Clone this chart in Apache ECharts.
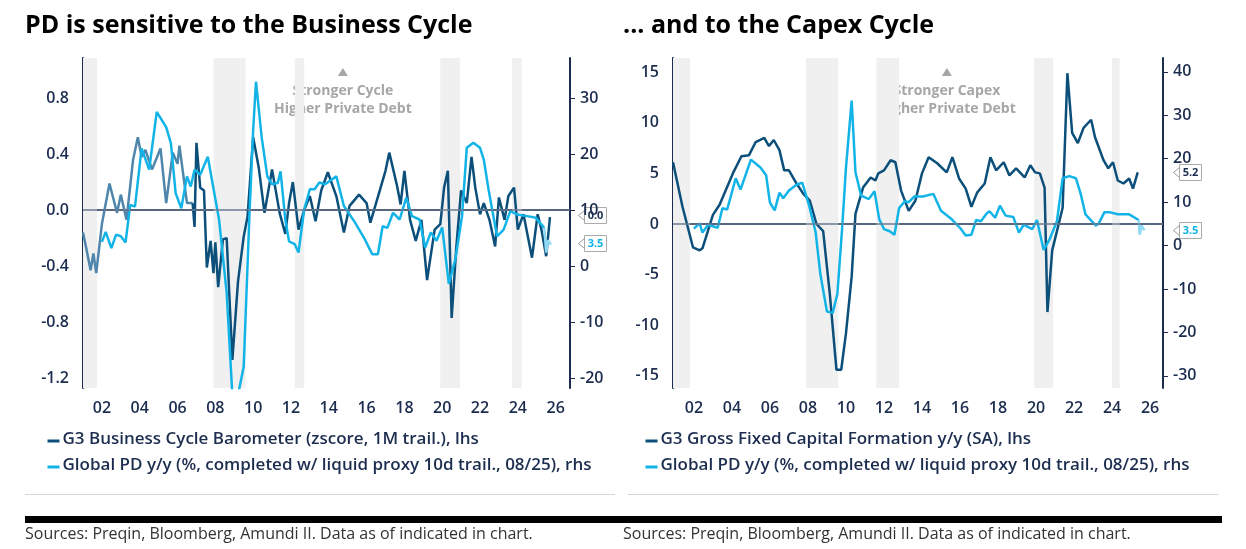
<!DOCTYPE html>
<html>
<head>
<meta charset="utf-8">
<script src="https://cdn.jsdelivr.net/npm/echarts@6/dist/echarts.min.js"></script>
<style>html,body{margin:0;padding:0;background:#fff}#main{width:1246px;height:549px}</style>
</head>
<body>
<div id="main"></div>
<script>
// left panel: G3 business cycle barometer (zscore), early part drawn lighter
var baroEarly = [[2001.0,-0.16],[2001.2,-0.29],[2001.4,-0.43],[2001.55,-0.31],[2001.7,-0.45],[2002.0,-0.1],[2002.4,0.19],[2002.8,-0.02],[2003.0,0.11],[2003.3,-0.07],[2003.65,0.36],[2003.9,0.52],[2004.1,0.38],[2004.3,0.43],[2004.65,0.29],[2005.1,0.44],[2005.4,0.05],[2005.75,0.41],[2006.0,0.33],[2006.1,0.46],[2006.5,0.05],[2006.8,0.05]];
var baroLate = [[2006.8,0.05],[2006.9,-0.12],[2007.0,0.48],[2007.2,0.16],[2007.4,0.14],[2007.55,-0.41],[2007.75,-0.22],[2007.9,-0.45],[2008.0,-0.23],[2008.15,-0.55],[2008.4,-0.21],[2008.6,-0.2],[2008.9,-1.07],[2009.2,-0.51],[2009.5,-0.19],[2009.7,-0.05],[2010.0,0.52],[2010.3,0.3],[2010.6,-0.02],[2011.0,0.29],[2011.4,-0.02],[2011.7,-0.17],[2011.9,0.05],[2012.1,0.2],[2012.4,-0.14],[2012.7,0.0],[2013.0,0.1],[2013.3,-0.08],[2013.6,0.14],[2013.95,0.27],[2014.4,0.1],[2014.8,-0.16],[2015.1,0.03],[2015.6,0.11],[2016.0,0.05],[2016.2,-0.09],[2016.7,0.14],[2017.0,0.28],[2017.2,0.41],[2017.6,0.18],[2017.8,0.04],[2018.0,0.28],[2018.3,-0.07],[2018.6,-0.22],[2018.9,-0.07],[2019.2,-0.5],[2019.6,-0.14],[2019.9,-0.1],[2020.1,0.16],[2020.3,0.28],[2020.5,-0.77],[2020.75,-0.26],[2021.0,0.14],[2021.3,0.05],[2021.55,0.38],[2021.75,0.16],[2022.0,-0.03],[2022.2,0.05],[2022.5,-0.07],[2022.8,-0.26],[2023.0,0.09],[2023.3,-0.07],[2023.5,0.1],[2023.8,0.16],[2024.0,-0.14],[2024.3,-0.03],[2024.75,-0.34],[2025.05,-0.03],[2025.25,-0.14],[2025.5,-0.33],[2025.7,-0.05]];
// global PD y/y (%) – left panel, rhs
var pdLeft = [[2002.0,4.3],[2002.2,6.1],[2002.5,3.2],[2002.75,5.6],[2003.0,5.3],[2003.25,4.2],[2003.5,10.9],[2003.75,10.6],[2004.1,21],[2004.5,17.2],[2004.9,27.5],[2005.4,24.8],[2005.65,21.9],[2005.9,13],[2006.2,10.3],[2006.5,16],[2006.7,14.2],[2006.9,17.2],[2007.2,16.3],[2007.6,19.5],[2008.2,8.2],[2008.6,-4.8],[2008.9,-23],[2009.2,-23],[2009.5,-18],[2009.8,8.8],[2010.0,24.2],[2010.15,32.9],[2010.45,23],[2010.75,16],[2011.0,14.6],[2011.3,14.8],[2011.45,16.9],[2011.7,8.3],[2011.9,4.4],[2012.2,3.9],[2012.4,2.4],[2012.7,10.1],[2013.0,13.7],[2013.25,13.7],[2013.5,14.9],[2013.8,14.6],[2014.4,16],[2014.8,10.7],[2015.4,7.7],[2015.9,4.8],[2016.3,2.1],[2016.6,2.1],[2016.85,7.1],[2017.1,6.8],[2017.4,9.5],[2017.75,8.3],[2018.1,12.2],[2018.4,8.9],[2018.8,8.3],[2019.1,3.3],[2019.4,6],[2019.7,4.5],[2020.0,6.9],[2020.35,-3.2],[2020.7,1.3],[2021.05,8.9],[2021.3,21.1],[2021.65,22],[2022.0,21.1],[2022.2,19],[2022.45,13.7],[2022.9,5.3],[2023.25,6.5],[2023.6,9.8],[2023.95,9.2],[2024.5,8.9],[2024.95,8.6],[2025.4,6.8]];
var pdLeftProxy = [[2025.4,6.8],[2025.5,2.4],[2025.6,4.6],[2025.75,3.8]];
// right panel: G3 gross fixed capital formation y/y (lhs) and PD (rhs)
var gfcf = [[2000.9,6.1],[2001.4,1.7],[2001.95,-2.3],[2002.3,-2.6],[2002.45,-2.4],[2003.0,0.9],[2003.35,1.9],[2004.05,5.0],[2004.5,6.7],[2004.9,6.8],[2005.25,8.1],[2005.7,8.5],[2005.95,7.7],[2006.2,8.3],[2006.5,7.3],[2006.75,5.3],[2007.0,5.3],[2007.4,4.0],[2007.75,3.0],[2008.1,2.3],[2008.45,0.0],[2008.8,-0.7],[2009.15,-6.9],[2009.5,-14.4],[2009.75,-14.4],[2010.0,-10.8],[2010.3,-5.2],[2010.5,1.0],[2010.9,3.6],[2011.3,4.6],[2011.55,4.3],[2011.7,5.0],[2012.0,5.3],[2012.35,6.3],[2012.6,6.1],[2012.9,3.3],[2013.3,1.3],[2013.65,2.3],[2014.0,5.0],[2014.35,6.6],[2014.8,6.0],[2015.3,5.1],[2015.6,6.6],[2015.95,4.5],[2016.3,3.5],[2016.6,1.7],[2016.9,3.1],[2017.3,4.0],[2017.6,6.6],[2017.9,5.3],[2018.3,6.1],[2018.6,4.8],[2018.95,5.5],[2019.4,4.6],[2019.7,5.8],[2019.95,5.1],[2020.2,5.0],[2020.45,3.6],[2020.6,-8.7],[2020.85,-2.6],[2021.1,-0.7],[2021.4,1.6],[2021.65,14.9],[2021.9,9.0],[2022.2,8.0],[2022.5,9.5],[2022.9,10.3],[2023.1,8.6],[2023.55,6.3],[2023.8,5.5],[2024.05,6.1],[2024.3,4.3],[2024.6,4.0],[2024.9,4.5],[2025.1,3.5],[2025.35,5.1]];
var pdRight = [[2002.0,3.9],[2002.3,5.1],[2002.45,3.0],[2002.75,4.8],[2003.25,4.1],[2003.5,8.6],[2003.75,8.3],[2004.2,15.5],[2004.45,12.9],[2005.0,19.8],[2005.5,18.0],[2005.8,16.2],[2006.0,9.9],[2006.25,8.1],[2006.5,12.2],[2006.7,10.9],[2007.0,12.7],[2007.4,14.0],[2007.7,14.5],[2008.05,9.4],[2008.4,3.2],[2008.65,-6.5],[2009.0,-15.2],[2009.3,-15.5],[2009.55,-11.1],[2009.8,4.1],[2010.0,17.9],[2010.3,33.4],[2010.5,16.9],[2010.8,11.5],[2011.2,10.7],[2011.5,12.5],[2011.75,6.1],[2012.0,3.8],[2012.3,3.3],[2012.55,2.5],[2012.8,8.7],[2013.1,10.2],[2013.3,10.0],[2013.6,11.3],[2014.05,11.3],[2014.6,11.9],[2015.0,8.0],[2015.55,6.1],[2016.0,4.1],[2016.3,2.3],[2016.6,2.5],[2016.85,5.9],[2017.1,5.6],[2017.4,7.4],[2017.55,7.9],[2017.85,6.4],[2018.1,9.2],[2018.4,6.9],[2018.8,6.6],[2019.1,3.0],[2019.35,4.8],[2019.8,3.8],[2020.05,5.9],[2020.4,-1.0],[2020.7,1.3],[2021.1,5.6],[2021.4,15.5],[2021.75,16.0],[2022.1,15.5],[2022.35,11.9],[2022.6,7.2],[2023.15,4.6],[2023.3,5.1],[2023.6,7.7],[2023.85,7.7],[2024.3,7.2],[2024.9,7.2],[2025.4,5.9]];
var pdRightProxy = [[2025.4,5.9],[2025.45,2.5],[2025.55,4.6],[2025.7,3.5]];
// shaded periods
var bandsLeft = [[2001.0,2001.75],[2007.9,2009.6],[2012.2,2012.7],[2019.9,2020.95],[2023.7,2024.2]];
var bandsRight = [[2000.9,2001.8],[2007.9,2009.6],[2011.6,2012.8],[2019.9,2020.9],[2024.0,2024.4]];
var yearTicks = [2002,2004,2006,2008,2010,2012,2014,2016,2018,2020,2022,2024,2026];
var leftTicksL = [-1.2,-0.8,-0.4,0,0.4,0.8];
var rightTicksL = [-20,-10,0,10,20,30];
var leftTicksR = [-15,-10,-5,0,5,10,15];
var rightTicksR = [-30,-20,-10,0,10,20,30,40];

var DARK = '#0b4f7a', CYAN = '#12b4e8', STEEL = '#4f86ab', AXIS = '#1c2d4f', FONT = 'Open Sans';
var chart = echarts.init(document.getElementById('main'));

function xAx(grid, min, max) {
  return {type: 'value', gridIndex: grid, min: min, max: max, splitLine: {show: false},
    axisLine: {lineStyle: {color: AXIS, width: 2}}, axisTick: {show: false},
    axisLabel: {customValues: yearTicks, formatter: function (v) { return String(Math.round(v) % 100).padStart(2, '0'); },
      color: AXIS, fontSize: 16, fontFamily: FONT, fontWeight: 600, margin: 12}};
}
function yAx(grid, pos, min, max, ticks, fmt, tick) {
  return {type: 'value', gridIndex: grid, position: pos, min: min, max: max, splitLine: {show: false},
    axisLine: {show: true, lineStyle: {color: AXIS, width: 2}},
    axisTick: {show: tick, customValues: ticks, length: 5, lineStyle: {color: AXIS}},
    axisLabel: {customValues: ticks, formatter: fmt, color: AXIS, fontSize: 16, fontFamily: FONT, fontWeight: 600, margin: pos === 'left' ? 14 : 10}};
}
function bandArea(b) { return b.map(function (r) { return [{xAxis: r[0]}, {xAxis: r[1]}]; }); }
function line(data, color, x, y, extra) {
  var s = {type: 'line', data: data, xAxisIndex: x, yAxisIndex: y, showSymbol: false, lineStyle: {color: color, width: 2.5}, z: 3};
  return Object.assign(s, extra || {});
}
function endLabel(x, y, txt, color) {
  return {type: 'group', left: x, top: y, z: 100, children: [
    {type: 'polyline', shape: {points: [[6, 3], [0, 8], [6, 13]]}, style: {stroke: '#999', fill: null, lineWidth: 1}},
    {type: 'rect', shape: {x: 6, y: 0, width: 22, height: 16}, style: {fill: '#fff', stroke: '#aaa', lineWidth: 1}},
    {type: 'text', style: {x: 17, y: 8, text: txt, fill: color, font: 'bold 11px "Open Sans"', align: 'center', verticalAlign: 'middle'}}
  ]};
}
function legendItem(x, y, color, txt) {
  return {type: 'group', left: x, top: y, children: [
    {type: 'line', shape: {x1: 0, y1: 10, x2: 12, y2: 10}, style: {stroke: color, lineWidth: 3}},
    {type: 'text', style: {x: 15, y: 0, text: txt, fill: AXIS, font: '600 17px "Open Sans"'}}
  ]};
}
function annot(cx, l1, l2) {
  return {type: 'group', left: cx - 90, top: 68, z: 100, children: [
    {type: 'polygon', shape: {points: [[85, 10], [90, 2], [95, 10]]}, style: {fill: '#a6a6a6'}},
    {type: 'text', style: {x: 90, y: 16, text: l1 + '\n' + l2, fill: '#a6a6a6', font: 'bold 14px "Open Sans"', align: 'center', lineHeight: 18}}
  ]};
}

var option = {
  animation: false,
  grid: [
    {left: 83, right: 676, top: 58, bottom: 161},
    {left: 673, right: 83, top: 58, bottom: 161}
  ],
  xAxis: [xAx(0, 2001.0, 2026.76), xAx(1, 2000.9, 2026.68)],
  yAxis: [
    yAx(0, 'left', -1.271, 1.086, leftTicksL, function (v) { return v.toFixed(1); }, false),
    yAx(0, 'right', -21.79, 37.14, rightTicksL, function (v) { return v; }, true),
    yAx(1, 'left', -16.2, 16.4, leftTicksR, function (v) { return v; }, false),
    yAx(1, 'right', -32.8, 43.2, rightTicksR, function (v) { return v; }, true)
  ],
  series: [
    line(baroEarly, STEEL, 0, 0, {markArea: {silent: true, itemStyle: {color: '#f0f0f0'}, data: bandArea(bandsLeft)},
      markLine: {silent: true, symbol: 'none', label: {show: false}, lineStyle: {color: '#6e7a90', width: 1.5, type: 'solid'}, data: [{yAxis: 0}]}}),
    line(baroLate, DARK, 0, 0),
    line(pdLeft, CYAN, 0, 1),
    line(pdLeftProxy, '#8fd9f3', 0, 1),
    line(gfcf, DARK, 1, 2, {markArea: {silent: true, itemStyle: {color: '#f0f0f0'}, data: bandArea(bandsRight)},
      markLine: {silent: true, symbol: 'none', label: {show: false}, lineStyle: {color: '#6e7a90', width: 1.5, type: 'solid'}, data: [{yAxis: 0}]}}),
    line(pdRight, CYAN, 1, 3),
    line(pdRightProxy, '#8fd9f3', 1, 3)
  ],
  graphic: [
    {type: 'text', left: 25, top: 13, style: {text: 'PD is sensitive to the Business Cycle', fill: '#000', font: 'bold 25px "Open Sans"'}},
    {type: 'text', left: 623, top: 13, style: {text: '... and to the Capex Cycle', fill: '#000', font: 'bold 25px "Open Sans"'}},
    annot(364, 'Stronger Cycle', 'Higher Private Debt'),
    annot(968, 'Stronger Capex', 'Higher Private Debt'),
    endLabel(576, 207, '0.0', AXIS),
    endLabel(576, 235, '3.5', CYAN),
    endLabel(1171, 164, '5.2', AXIS),
    endLabel(1171, 222, '3.5', CYAN),
    legendItem(45, 431, DARK, 'G3 Business Cycle Barometer (zscore, 1M trail.), lhs'),
    legendItem(45, 457, CYAN, 'Global PD y/y (%, completed w/ liquid proxy 10d trail., 08/25), rhs'),
    legendItem(643, 431, DARK, 'G3 Gross Fixed Capital Formation y/y (SA), lhs'),
    legendItem(643, 457, CYAN, 'Global PD y/y (%, completed w/ liquid proxy 10d trail., 08/25), rhs'),
    {type: 'rect', left: 25, top: 494, shape: {width: 590, height: 1}, style: {fill: '#d6d6d6'}},
    {type: 'rect', left: 628, top: 494, shape: {width: 590, height: 1}, style: {fill: '#d6d6d6'}},
    {type: 'rect', left: 25, top: 516, shape: {width: 1197, height: 7}, style: {fill: '#000'}},
    {type: 'text', left: 25, top: 526, style: {text: 'Sources: Preqin, Bloomberg, Amundi II. Data as of indicated in chart.', fill: '#333', font: '16px "Open Sans"'}},
    {type: 'text', left: 623, top: 526, style: {text: 'Sources: Preqin, Bloomberg, Amundi II. Data as of indicated in chart.', fill: '#333', font: '16px "Open Sans"'}}
  ]
};
chart.setOption(option);
</script>
</body>
</html>
